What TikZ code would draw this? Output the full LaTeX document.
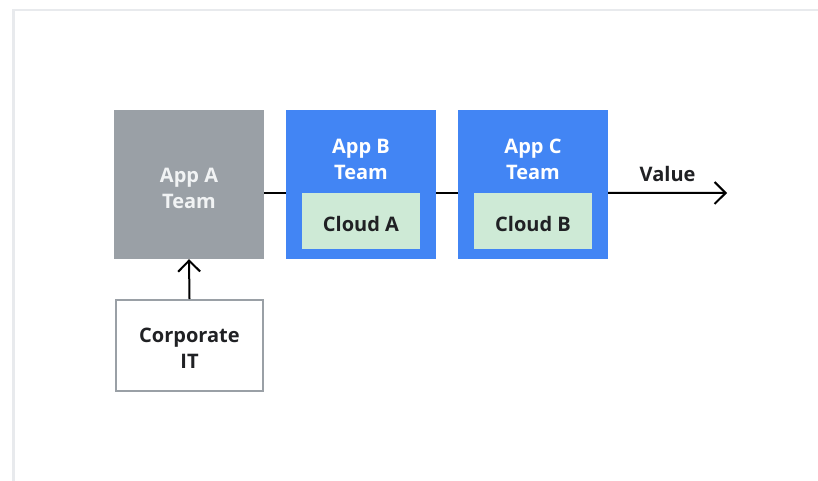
\documentclass[tikz,border=0pt]{standalone}
\usepackage{fontspec}
\setmainfont{Open Sans}
\usetikzlibrary{arrows.meta,calc}
\definecolor{frameC}{HTML}{E8EAED}
\definecolor{grayC}{HTML}{9AA0A6}
\definecolor{blueC}{HTML}{4285F4}
\definecolor{greenC}{HTML}{CEEAD6}
\definecolor{darkC}{HTML}{202124}
\definecolor{offW}{HTML}{F1F3F4}
\tikzset{
  teambox/.style={rectangle, minimum width=150pt, minimum height=149pt, inner sep=0pt, draw=none},
  cloudbox/.style={rectangle, fill=greenC, minimum width=118pt, minimum height=56pt, inner sep=0pt},
  wtxt/.style={text=white, align=center, inner sep=0pt, font=\bfseries\fontsize{20}{26}\selectfont},
  dtxt/.style={text=darkC, align=center, inner sep=0pt, font=\bfseries\fontsize{20}{26}\selectfont},
  conn/.style={line width=2pt, draw=black},
  barb/.style={-{Straight Barb[length=11pt,width=22pt,line width=2pt]}},
}
\begin{document}
\begin{tikzpicture}[x=1pt,y=-1pt]
\useasboundingbox (0,0) rectangle (818,480);
\fill[white] (0,0) rectangle (818,480);
\draw[frameC, line width=2.5pt] (13.5,481) -- (13.5,10) -- (819,10);
% team boxes
\node[teambox, fill=grayC] (appA) at (189,184.5) {};
\node[teambox, fill=blueC] (appB) at (361,184.5) {};
\node[teambox, fill=blueC] (appC) at (533,184.5) {};
\node[cloudbox] (cloudA) at (361,221) {};
\node[cloudbox] (cloudB) at (533,221) {};
\node[dtxt] (cloudAt) at (361,223.5) {Cloud A};
\node[dtxt] (cloudBt) at (533,223.5) {Cloud B};
\node[wtxt, text=offW] (appAt) at (189,188.5) {App A\\Team};
\node[wtxt] (appBt) at (361,159.5) {App B\\Team};
\node[wtxt] (appCt) at (533,159.5) {App C\\Team};
\node[rectangle, draw=grayC, line width=2pt, fill=white, minimum width=147pt, minimum height=91pt, inner sep=0pt] (corp) at (189.5,345.5) {};
\node[dtxt] (corpt) at (189.5,348.5) {Corporate\\IT};
\coordinate (valEnd) at (727,193);
% connectors
\draw[conn] (appA.east |- cloudA.north) -- (appB.west |- cloudA.north);
\draw[conn] (appB.east |- cloudA.north) -- (appC.west |- cloudA.north);
\draw[conn, barb] (appC.east |- cloudB.north) -- (valEnd)
  node[dtxt, pos=0.5, above=10pt] (val) {Value};
\draw[conn, barb] (corp.north) -- (appA.south);
\end{tikzpicture}
\end{document}
